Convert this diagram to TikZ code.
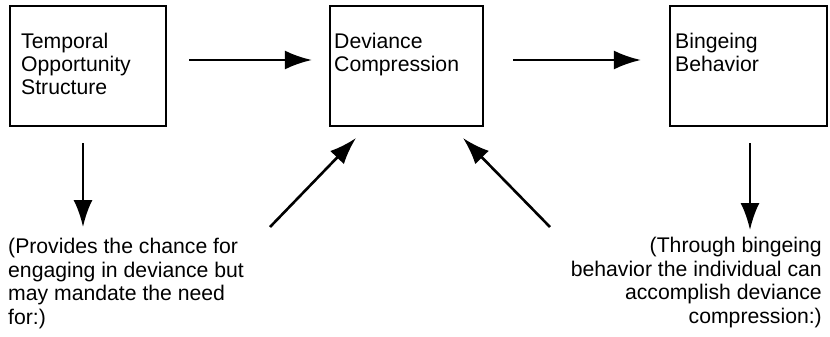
\documentclass[tikz,border=0pt]{standalone}
\usepackage{fontspec}
\setmainfont{Liberation Sans}
\usetikzlibrary{arrows.meta}
\begin{document}
\begin{tikzpicture}[x=1pt,y=-1pt,
  boxnode/.style={draw, line width=2.2pt, minimum width=#1, minimum height=120pt, inner sep=0pt},
  lbl/.style={inner sep=0pt, font=\fontsize{21.2}{23.4}\selectfont},
  arr/.style={line width=2.6pt, -{Latex[length=27pt,width=19pt]}}]
\useasboundingbox (0,0) rectangle (830,337);
\node[boxnode=156pt] (b1) at (88,66) {};
\node[boxnode=153pt] (b2) at (406.5,66) {};
\node[boxnode=157pt] (b3) at (748.5,66) {};
\node[lbl, anchor=base west, align=left] (t1) at (21,95) {Temporal\\Opportunity\\Structure};
\node[lbl, anchor=base west, align=left] (t2) at (334,71.5) {Deviance\\Compression};
\node[lbl, anchor=base west, align=left] (t3) at (675,71.5) {Bingeing\\Behavior};
\node[lbl, anchor=base west, align=left] (n1) at (8,324) {(Provides the chance for\\engaging in deviance but\\may mandate the need\\for:)};
\node[lbl, anchor=base east, align=right] (n2) at (822,323) {(Through bingeing\\behavior the individual can\\accomplish deviance\\compression:)};
\draw[arr, shorten <=22pt, shorten >=17pt] ([yshift=6pt]b1.east) -- ([yshift=6pt]b2.west);
\draw[arr, shorten <=29pt, shorten >=28pt] ([yshift=6pt]b2.east) -- ([yshift=6pt]b3.west);
\coordinate (d1) at (83,227);
\coordinate (d2) at (750,230);
\coordinate (f1) at (270,227);
\coordinate (f2) at (550,227);
\draw[arr, shorten <=16pt] ([xshift=-5pt]b1.south) -- (d1);
\draw[arr, shorten <=16pt] ([xshift=1.5pt]b3.south) -- (d2);
\draw[arr] (f1) -- ([xshift=27pt,yshift=-11pt]b2.south west);
\draw[arr] (f2) -- ([xshift=-21pt,yshift=-11pt]b2.south east);
\end{tikzpicture}
\end{document}
